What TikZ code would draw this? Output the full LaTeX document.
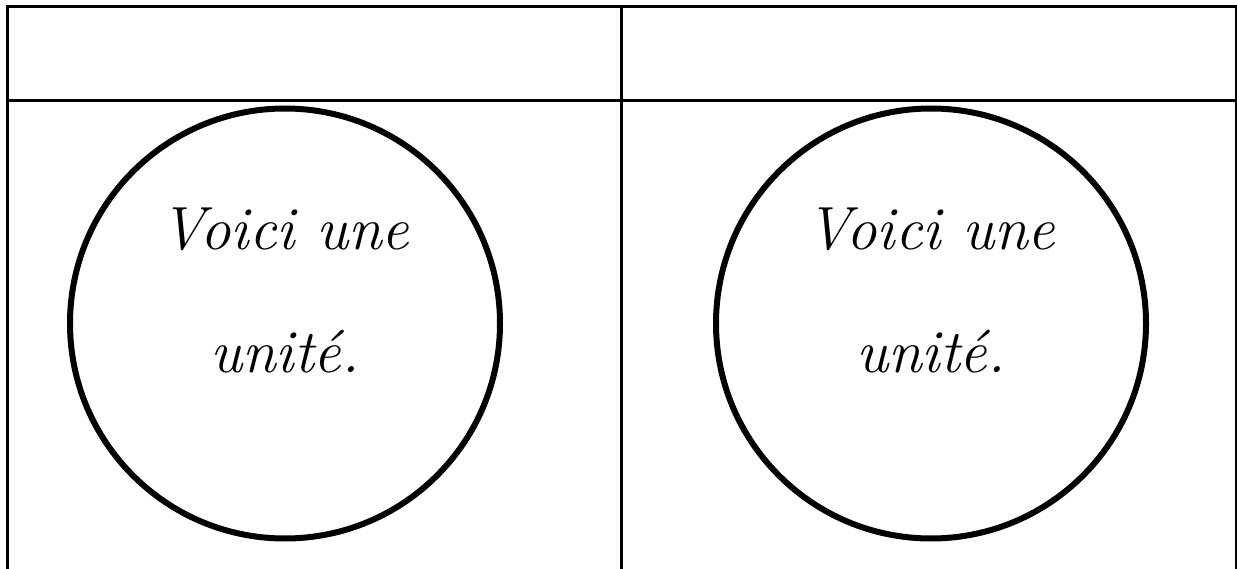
\documentclass[tikz,border=0pt]{standalone}
\usepackage{tikz}
\usetikzlibrary{positioning}
\tikzset{
  ugrid/.style={line width=3pt},
  ucircle/.style={draw,circle,line width=6pt,minimum size=430pt,inner sep=0pt},
  uword/.style={font=\fontsize{61}{70}\selectfont\itshape,anchor=base,inner sep=0pt},
}
\begin{document}
\begin{tikzpicture}[x=1pt,y=-1pt]
\useasboundingbox (0,0) rectangle (1237,569);
% table
\draw[ugrid] (7,600) -- (7,7) -- (1236,7) -- (1236,600);
\draw[ugrid] (7,101) -- (1236,101);
\draw[ugrid] (621,7) -- (621,600);
% one unit per column
\foreach \cx/\nm in {285/l,931/r}{
  \node[ucircle] (circ\nm) at (\cx,323.5) {};
  \node[uword] (voici\nm) at (\cx,250) {Voici une};
  \node[uword] (unite\nm) at (\cx,372) {unité.};
}
\end{tikzpicture}
\end{document}
